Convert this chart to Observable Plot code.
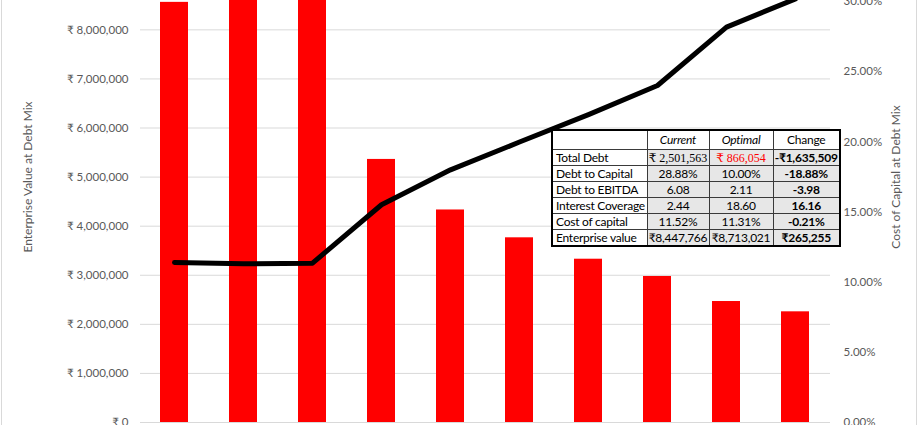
<!DOCTYPE html>
<html><head><meta charset="utf-8">
<script src="https://cdn.jsdelivr.net/npm/d3@7"></script>
<script src="https://cdn.jsdelivr.net/npm/@observablehq/plot@0.6"></script>
<style>
body{margin:0;background:#fff;}
#wrap{position:relative;width:920px;height:425px;overflow:hidden;font-family:Lato,"Open Sans",sans-serif;background:#fff;}
#wrap svg{position:absolute;left:0;top:0;}
.edge{position:absolute;top:0;height:425px;width:1px;background:#d9d9d9;}
.ytitle{position:absolute;white-space:nowrap;font-size:12px;color:#595959;transform:translate(-50%,-50%) rotate(-90deg);}
table.summary{position:absolute;left:551px;top:129px;width:290px;table-layout:fixed;border-collapse:collapse;border:2px solid #000;font-family:Lato,sans-serif;font-size:12px;letter-spacing:-0.25px;color:#000;background:#fff;}
table.summary td{border:1px solid #3a3a3a;padding:0 1px;height:15px;line-height:14px;text-align:center;white-space:nowrap;overflow:hidden;}
table.summary tr.head td{height:18px;}
table.summary td.lab{text-align:left;padding-left:3px;background:#fff;}
table.summary td.val{background:#e7e7e7;}
table.summary td.chg{font-weight:bold;}
table.summary td.serif{font-family:"Liberation Serif","DejaVu Serif",serif;letter-spacing:0;}
table.summary td.red{color:#ff0000;}
</style></head><body>
<div id="wrap"></div>
<script>
// Categories (debt mix steps)
const categories = ["0%", "10%", "20%", "30%", "40%", "50%", "60%", "70%", "80%", "90%"];
// Enterprise value at each debt mix (₹)
const enterpriseValue = [8560000, 8713021, 8650000, 5360000, 4330000, 3763000, 3327000, 2975000, 2465000, 2255000];
// Cost of capital at each debt mix (%)
const costOfCapital = [11.40, 11.31, 11.36, 15.52, 18.01, 19.99, 21.95, 24.02, 28.18, 30.20];
// Axis ticks
const leftTicks = [0, 1000000, 2000000, 3000000, 4000000, 5000000, 6000000, 7000000, 8000000];
const rightTicks = [0, 5, 10, 15, 20, 25, 30];
// Summary table
const tableHeader = ["", "Current", "Optimal", "Change"];
const tableRows = ["Total Debt", "Debt to Capital", "Debt to EBITDA", "Interest Coverage", "Cost of capital", "Enterprise value"];
const tableCurrent = ["₹ 2,501,563", "28.88%", "6.08", "2.44", "11.52%", "₹8,447,766"];
const tableOptimal = ["₹ 866,054", "10.00%", "2.11", "18.60", "11.31%", "₹8,713,021"];
const tableChange = ["-₹1,635,509", "-18.88%", "-3.98", "16.16", "-0.21%", "₹265,255"];

const leftMax = 8598000;   // visible top of the left scale
const rightMax = 30.08;    // visible top of the right scale
const k = leftMax / rightMax;

const data = categories.map((c, i) => ({c, ev: enterpriseValue[i], coc: costOfCapital[i]}));

const chart = Plot.plot({
  width: 920, height: 425,
  marginLeft: 140, marginRight: 90, marginTop: 0, marginBottom: 3,
  style: {fontFamily: "Lato, sans-serif", fontSize: "11.5px", color: "#595959", background: "transparent"},
  x: {domain: categories, paddingInner: 0.594, paddingOuter: 0.297, axis: null},
  y: {domain: [0, leftMax], axis: null},
  marks: [
    Plot.ruleY(leftTicks, {stroke: "#d9d9d9", strokeWidth: 1}),
    Plot.barY(data, {x: "c", y: "ev", fill: "#ff0000", clip: true}),
    Plot.lineY(data, {x: "c", y: d => d.coc * k, stroke: "#000", strokeWidth: 5, strokeLinejoin: "round", clip: true}),
    Plot.axisY(leftTicks, {anchor: "left", tickSize: 0, tickPadding: 12, label: null,
      tickFormat: d => "₹ " + d3.format(",")(d), fill: "#595959"}),
    Plot.axisY(rightTicks.map(p => p * k), {anchor: "right", tickSize: 0, tickPadding: 13, label: null,
      tickFormat: d => (d / k).toFixed(2) + "%", fill: "#595959"})
  ]
});

const wrap = document.getElementById("wrap");
wrap.appendChild(chart);

const e1 = document.createElement("div"); e1.className = "edge"; e1.style.left = "1px"; wrap.appendChild(e1);
const e2 = document.createElement("div"); e2.className = "edge"; e2.style.left = "916px"; wrap.appendChild(e2);

const t1 = document.createElement("div"); t1.className = "ytitle"; t1.textContent = "Enterprise Value at Debt Mix";
t1.style.left = "27px"; t1.style.top = "177px"; wrap.appendChild(t1);
const t2 = document.createElement("div"); t2.className = "ytitle"; t2.textContent = "Cost of Capital at Debt Mix";
t2.style.left = "895px"; t2.style.top = "177px"; wrap.appendChild(t2);

// table
const table = document.createElement("table");
table.className = "summary";
const colgroup = document.createElement("colgroup");
[95, 62, 64, 67].forEach(w => { const c = document.createElement("col"); c.style.width = w + "px"; colgroup.appendChild(c); });
table.appendChild(colgroup);
const hr = document.createElement("tr"); hr.className = "head";
tableHeader.forEach((h, j) => {
  const td = document.createElement("td");
  td.textContent = h;
  if (j === 1 || j === 2) td.style.fontStyle = "italic";
  if (j === 0) td.className = "lab";
  hr.appendChild(td);
});
table.appendChild(hr);
tableRows.forEach((r, i) => {
  const tr = document.createElement("tr");
  const cells = [r, tableCurrent[i], tableOptimal[i], tableChange[i]];
  cells.forEach((v, j) => {
    const td = document.createElement("td");
    td.textContent = v;
    if (j === 0) td.className = "lab";
    else {
      td.className = "val";
      if (j === 3) td.classList.add("chg");
      if (i === 0 && (j === 1 || j === 2)) td.classList.add("serif");
      if (i === 0 && j === 2) td.classList.add("red");
    }
    tr.appendChild(td);
  });
  table.appendChild(tr);
});
wrap.appendChild(table);
</script>
</body></html>
